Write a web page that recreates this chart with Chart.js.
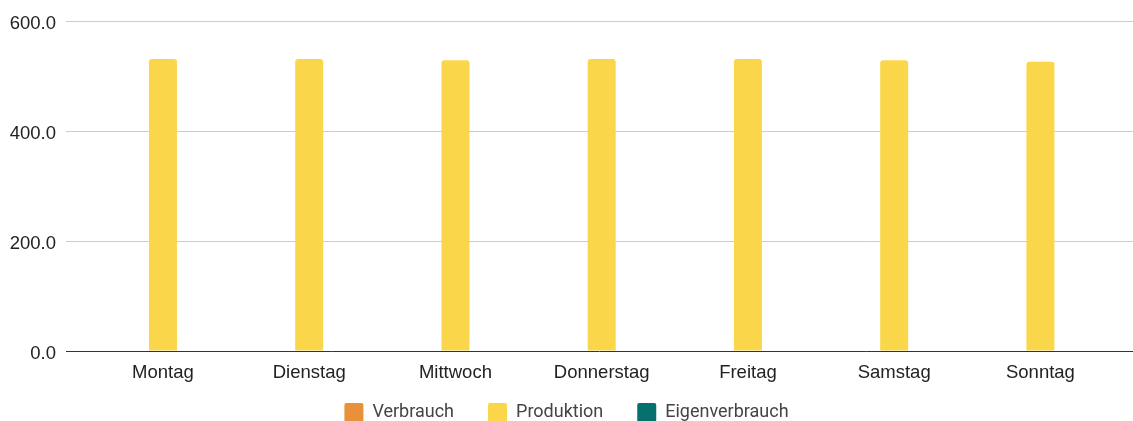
<!DOCTYPE html>
<html>
<head>
<meta charset="utf-8">
<script src="https://cdn.jsdelivr.net/npm/chart.js@4"></script>
<style>
  html, body { margin: 0; padding: 0; background: #fff; }
  #wrap { width: 1133px; height: 421px; position: relative; }
</style>
</head>
<body>
<div id="wrap"><canvas id="chart"></canvas></div>
<script>
const tage = ['Montag', 'Dienstag', 'Mittwoch', 'Donnerstag', 'Freitag', 'Samstag', 'Sonntag'];
const verbrauch = [0, 0, 0, 0, 0, 0, 0];
const produktion = [531, 531, 529, 531, 531, 529, 526];
const eigenverbrauch = [0, 0, 0, 0, 0, 0, 0];
const yTicks = [0, 200, 400, 600];

const tickFont = { family: "'Liberation Sans', Arial, sans-serif", size: 18.5 };

function punkte(werte) {
    return werte.map((v, i) => ({ x: i, y: v }));
}

document.addEventListener('DOMContentLoaded', function () {
    new Chart(document.getElementById('chart'), {
        type: 'bar',
        data: {
            datasets: [
                { label: 'Verbrauch', data: punkte(verbrauch), backgroundColor: '#E8903A' },
                { label: 'Produktion', data: punkte(produktion), backgroundColor: '#FAD74A', borderRadius: 3 },
                { label: 'Eigenverbrauch', data: punkte(eigenverbrauch), backgroundColor: '#05706D' }
            ]
        },
        options: {
            responsive: true,
            maintainAspectRatio: false,
            animation: false,
            layout: { padding: { top: 21, right: 0, bottom: -11, left: 0 } },
            datasets: {
                bar: {
                    barThickness: 28,
                    borderWidth: 0,
                    inflateAmount: 0
                }
            },
            scales: {
                x: {
                    type: 'linear',
                    min: -0.663,
                    max: 6.633,
                    offset: false,
                    bounds: 'data',
                    grid: { display: false, drawTicks: false },
                    border: { display: false },
                    afterBuildTicks: scale => {
                        scale.ticks = tage.map((_, i) => ({ value: i }));
                    },
                    afterFit: scale => { scale.height = 18; },
                    ticks: {
                        autoSkip: false,
                        maxRotation: 0,
                        mirror: true,
                        padding: -33,
                        color: '#222',
                        font: tickFont,
                        callback: value => tage[value]
                    }
                },
                y: {
                    min: 0,
                    max: 600,
                    afterBuildTicks: scale => {
                        scale.ticks = yTicks.map(v => ({ value: v }));
                    },
                    afterFit: scale => { scale.width = 66; },
                    grid: {
                        drawTicks: false,
                        color: ctx => ctx.tick && ctx.tick.value === 0 ? '#333' : '#ccc'
                    },
                    border: { display: false },
                    ticks: {
                        padding: 10,
                        labelOffset: 3,
                        color: '#222',
                        font: tickFont,
                        callback: value => value.toFixed(1)
                    }
                }
            },
            plugins: {
                legend: {
                    position: 'bottom',
                    labels: {
                        boxWidth: 19,
                        boxHeight: 19,
                        padding: 34,
                        useBorderRadius: true,
                        borderRadius: 2,
                        color: '#444',
                        font: { family: 'Roboto, sans-serif', size: 18 }
                    }
                },
                tooltip: { enabled: false }
            }
        }
    });
});
</script>
</body>
</html>
